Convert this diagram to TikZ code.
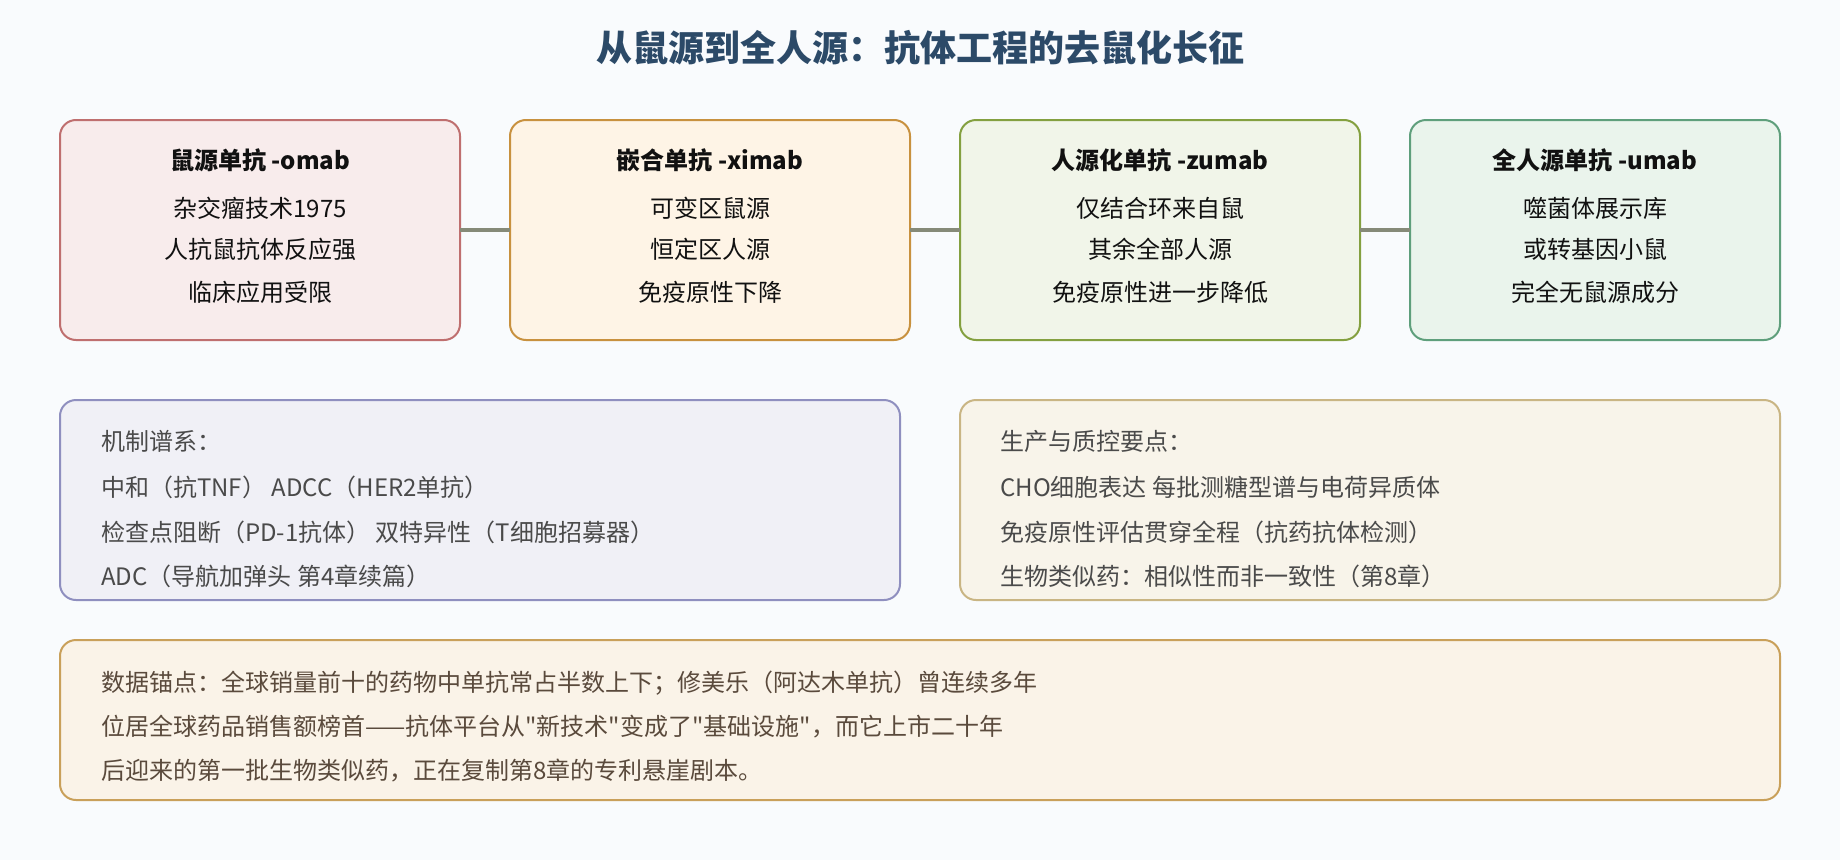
\documentclass[tikz,border=0pt]{standalone}
\usepackage{fontspec}
\newfontfamily\cjk{Noto Sans CJK SC}
\definecolor{bgc}{HTML}{F9FBFD}
\definecolor{titlec}{HTML}{2C4A68}
\definecolor{ln}{HTML}{868A78}
\definecolor{aB}{HTML}{BF6F6F}\definecolor{aF}{HTML}{F8ECEC}
\definecolor{bB}{HTML}{C8913F}\definecolor{bF}{HTML}{FEF4E6}
\definecolor{cB}{HTML}{84A040}\definecolor{cF}{HTML}{F1F5E9}
\definecolor{dB}{HTML}{5F9F7C}\definecolor{dF}{HTML}{EAF4EC}
\definecolor{eB}{HTML}{8F8FBF}\definecolor{eF}{HTML}{F0F0F6}
\definecolor{fB}{HTML}{C9B584}\definecolor{fF}{HTML}{F8F4EA}
\definecolor{gB}{HTML}{C9A05A}\definecolor{gF}{HTML}{FAF3E8}
\definecolor{txt}{HTML}{111111}
\definecolor{gtxt}{HTML}{4A4A4A}
\definecolor{btxt}{HTML}{5A4A3C}
\begin{document}
\begin{tikzpicture}[x=0.75pt,y=-0.75pt,
  card/.style={rectangle,rounded corners=12pt,line width=1.5pt,inner sep=0pt,outer sep=0pt},
  conn/.style={draw=ln,line width=3pt},
  hd/.style={font=\cjk\bfseries\fontsize{18}{22}\selectfont,text=txt,inner sep=0pt},
  bd/.style={font=\cjk\fontsize{18}{22}\selectfont,text=txt,inner sep=0pt},
  lt/.style={font=\cjk\fontsize{18}{22}\selectfont,text=gtxt,inner sep=0pt,anchor=west},
  bt/.style={font=\cjk\fontsize{18}{22}\selectfont,text=btxt,inner sep=0pt,anchor=west},
  ttl/.style={font=\cjk\bfseries\fontsize{27}{32}\selectfont,text=titlec,inner sep=0pt}]
\fill[bgc] (0,0) rectangle (1840,860);
\useasboundingbox (0,0) rectangle (1840,860);
\node[ttl] (title) at (920,48) {从鼠源到全人源：抗体工程的去鼠化长征};
% top cards
\node[card,draw=aB,fill=aF,minimum width=300pt,minimum height=165pt] (m1) at (260,230) {};
\node[card,draw=bB,fill=bF,minimum width=300pt,minimum height=165pt] (m2) at (710,230) {};
\node[card,draw=cB,fill=cF,minimum width=300pt,minimum height=165pt] (m3) at (1160,230) {};
\node[card,draw=dB,fill=dF,minimum width=277.5pt,minimum height=165pt] (m4) at (1595,230) {};
\draw[conn] (m1.east) -- (m2.west);
\draw[conn] (m2.east) -- (m3.west);
\draw[conn] (m3.east) -- (m4.west);
\node[hd] (m1h) at (260,160) {鼠源单抗 -omab};
\node[bd] (m1a) at (260,208) {杂交瘤技术1975};
\node[bd] (m1b) at (260,249) {人抗鼠抗体反应强};
\node[bd] (m1c) at (260,292) {临床应用受限};
\node[hd] (m2h) at (710,160) {嵌合单抗 -ximab};
\node[bd] (m2a) at (710,208) {可变区鼠源};
\node[bd] (m2b) at (710,249) {恒定区人源};
\node[bd] (m2c) at (710,292) {免疫原性下降};
\node[hd] (m3h) at (1160,160) {人源化单抗 -zumab};
\node[bd] (m3a) at (1160,208) {仅结合环来自鼠};
\node[bd] (m3b) at (1160,249) {其余全部人源};
\node[bd] (m3c) at (1160,292) {免疫原性进一步降低};
\node[hd] (m4h) at (1595,160) {全人源单抗 -umab};
\node[bd] (m4a) at (1595,208) {噬菌体展示库};
\node[bd] (m4b) at (1595,249) {或转基因小鼠};
\node[bd] (m4c) at (1595,292) {完全无鼠源成分};
% middle panels
\node[card,draw=eB,fill=eF,minimum width=630pt,minimum height=150pt] (mech) at (480,500) {};
\node[card,draw=fB,fill=fF,minimum width=615pt,minimum height=150pt] (prod) at (1370,500) {};
\node[lt] (mech0) at (101,441) {机制谱系：};
\node[lt] (mech1) at (101,487) {中和（抗TNF） ADCC（HER2单抗）};
\node[lt] (mech2) at (101,532) {检查点阻断（PD-1抗体） 双特异性（T细胞招募器）};
\node[lt] (mech3) at (101,576) {ADC（导航加弹头 第4章续篇）};
\node[lt] (prod0) at (1000,441) {生产与质控要点：};
\node[lt] (prod1) at (1000,487) {CHO细胞表达 每批测糖型谱与电荷异质体};
\node[lt] (prod2) at (1000,532) {免疫原性评估贯穿全程（抗药抗体检测）};
\node[lt] (prod3) at (1000,576) {生物类似药：相似性而非一致性（第8章）};
% bottom panel
\node[card,draw=gB,fill=gF,minimum width=1290pt,minimum height=120pt] (data) at (920,720) {};
\node[bt] (data1) at (101,683) {数据锚点：全球销量前十的药物中单抗常占半数上下；修美乐（阿达木单抗）曾连续多年};
\node[bt] (data2) at (101,727) {位居全球药品销售额榜首——抗体平台从"新技术"变成了"基础设施"，而它上市二十年};
\node[bt] (data3) at (101,771) {后迎来的第一批生物类似药，正在复制第8章的专利悬崖剧本。};
\end{tikzpicture}
\end{document}
